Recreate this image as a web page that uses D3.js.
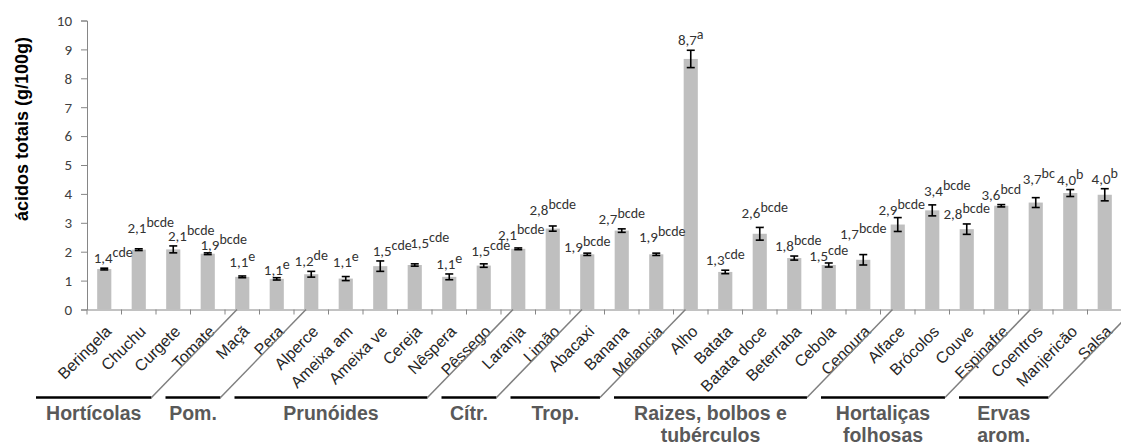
<!DOCTYPE html>
<html>
<head>
<meta charset="utf-8">
<script src="https://cdn.jsdelivr.net/npm/d3@7"></script>
<style>
  html, body { margin: 0; padding: 0; background: #fff; }
  svg { display: block; }
</style>
</head>
<body>
<svg id="chart" width="1121" height="444"></svg>
<script>
const categories = ["Beringela","Chuchu","Curgete","Tomate","Maçã","Pera","Alperce","Ameixa am","Ameixa ve","Cereja","Nêspera","Pêssego","Laranja","Limão","Abacaxi","Banana","Melancia","Alho","Batata","Batata doce","Beterraba","Cebola","Cenoura","Alface","Brócolos","Couve","Espinafre","Coentros","Manjericão","Salsa"];
const values = [1.40,2.07,2.08,1.93,1.13,1.06,1.22,1.07,1.50,1.54,1.13,1.52,2.10,2.80,1.91,2.73,1.91,8.67,1.30,2.62,1.78,1.54,1.72,2.94,3.43,2.78,3.59,3.70,4.03,3.97];
const errors = [0.03,0.03,0.12,0.03,0.03,0.04,0.10,0.07,0.18,0.04,0.10,0.06,0.03,0.09,0.04,0.06,0.04,0.30,0.06,0.22,0.07,0.07,0.18,0.24,0.19,0.18,0.04,0.17,0.12,0.21];
const letters = ["cde","bcde","bcde","bcde","e","e","de","e","cde","cde","e","cde","bcde","bcde","bcde","bcde","bcde","a","cde","bcde","bcde","cde","bcde","bcde","bcde","bcde","bcd","bc","b","b"];
const groupNames = [["Hortícolas"],["Pom."],["Prunóides"],["Cítr."],["Trop."],["Raizes, bolbos e","tubérculos"],["Hortaliças","folhosas"],["Ervas","arom."]];
const groupSizes = [4,2,6,2,3,6,4,3];
const yTicks = [0,1,2,3,4,5,6,7,8,9,10];
const yTitle = "ácidos totais (g/100g)";

(function () {
const svg = d3.select("#chart");
const plotLeft = 87, plotRight = 1122, plotTop = 20.5, plotBottom = 309.5;
const axisColor = "#868686";
const numFont = "Carlito, Calibri, Lato, 'Noto Sans', sans-serif";
const arial = "Arial, 'Liberation Sans', sans-serif";

// manual label drags (as in the source chart), in px relative to default placement
const labelNudge = {
  "Beringela": [9, 0], "Chuchu": [12, -10.5], "Curgete": [18, 0], "Tomate": [16, 2],
  "Maçã": [0, -4], "Pera": [0, 2], "Ameixa am": [0, -5], "Ameixa ve": [12, 0],
  "Cereja": [15, -10.5], "Pêssego": [7, -3], "Laranja": [3, -3], "Limão": [0, -6],
  "Abacaxi": [0, 4], "Melancia": [6, -6.5], "Batata doce": [5, -4.5], "Beterraba": [4, 0],
  "Cebola": [0, 3.5], "Cenoura": [0, -11], "Alface": [4, 2.5], "Brócolos": [15, -4],
  "Coentros": [3, -8.5]
};

const x = d3.scaleBand().domain(categories).range([plotLeft, plotRight]).paddingInner(0.59).paddingOuter(0.295);
const y = d3.scaleLinear().domain([0, 10]).range([plotBottom, plotTop]);
const step = x.step();
const cx = c => x(c) + x.bandwidth() / 2;

const locale = d3.formatLocale({decimal: ",", thousands: ".", grouping: [3], currency: ["", "€"]});
const fmt = locale.format(".1f");

// Y axis
const yAxis = svg.append("g").attr("transform", `translate(${plotLeft},0)`)
  .call(d3.axisLeft(y).tickValues(yTicks).tickSize(6).tickPadding(9).tickFormat(d3.format("d")));
yAxis.select(".domain").attr("stroke", axisColor);
yAxis.selectAll(".tick line").attr("stroke", axisColor);
yAxis.selectAll(".tick text").attr("fill", "#404040").style("font-family", numFont).style("font-size", "15px");

// X axis line + ticks at category boundaries
const xAxis = svg.append("g").attr("transform", `translate(0,${plotBottom})`)
  .call(d3.axisBottom(x).tickSize(0).tickFormat(""));
xAxis.select(".domain").attr("stroke", axisColor);
xAxis.selectAll(".tick").remove();
svg.append("g").selectAll("line")
  .data(d3.range(categories.length + 1))
  .join("line")
  .attr("x1", i => plotLeft + i * step).attr("x2", i => plotLeft + i * step)
  .attr("y1", plotBottom).attr("y2", plotBottom + 5)
  .attr("stroke", axisColor);

// Bars
svg.append("g").selectAll("rect")
  .data(categories)
  .join("rect")
  .attr("x", c => x(c))
  .attr("width", x.bandwidth())
  .attr("y", (c, i) => y(values[i]))
  .attr("height", (c, i) => y(0) - y(values[i]))
  .attr("fill", "#BFBFBF");

// Error bars
const eb = svg.append("g").attr("stroke", "#000").attr("stroke-width", 1.6);
categories.forEach((c, i) => {
  const xc = cx(c), y1 = y(values[i] + errors[i]), y2 = y(values[i] - errors[i]);
  eb.append("line").attr("x1", xc).attr("x2", xc).attr("y1", y1).attr("y2", y2);
  eb.append("line").attr("x1", xc - 4).attr("x2", xc + 4).attr("y1", y1).attr("y2", y1);
  eb.append("line").attr("x1", xc - 4).attr("x2", xc + 4).attr("y1", y2).attr("y2", y2);
});

// Value labels with superscript letters
const lab = svg.append("g").attr("fill", "#333").style("font-family", numFont);
categories.forEach((c, i) => {
  const n = labelNudge[c] || [0, 0];
  const t = lab.append("text")
    .attr("x", cx(c) + n[0])
    .attr("y", y(values[i] + errors[i]) - 5 + n[1])
    .attr("text-anchor", "middle");
  t.append("tspan").style("font-size", "15px").text(fmt(values[i]));
  t.append("tspan").style("font-size", "14px").attr("dy", -6).text(letters[i]);
});

// Category labels rotated
svg.append("g").selectAll("text")
  .data(categories)
  .join("text")
  .attr("transform", c => `translate(${cx(c) + 8},${plotBottom + 23}) rotate(-45)`)
  .attr("text-anchor", "end")
  .attr("fill", "#262626")
  .style("font-family", arial)
  .style("font-size", "16px")
  .text(c => c);

// Y title
svg.append("text")
  .attr("transform", `translate(28,129) rotate(-90)`)
  .attr("text-anchor", "middle")
  .attr("fill", "#000")
  .style("font-family", arial)
  .style("font-size", "18px")
  .style("font-weight", "bold")
  .text(yTitle);

// Group lines, diagonals and names
const lineY = 397.5;
let startIdx = 0, prevEnd = null;
const gG = svg.append("g");
groupSizes.forEach((n, g) => {
  const endIdx = startIdx + n;
  const boundary = plotLeft + endIdx * step;
  const lineEnd = boundary - 73.5;
  const lineStart = g === 0 ? plotLeft - 51 : prevEnd + 14;
  gG.append("line").attr("x1", lineStart).attr("x2", lineEnd)
    .attr("y1", lineY).attr("y2", lineY)
    .attr("stroke", "#000").attr("stroke-width", 2.5);
  gG.append("line").attr("x1", lineEnd).attr("y1", lineY)
    .attr("x2", boundary + 12).attr("y2", plotBottom)
    .attr("stroke", "#7f7f7f").attr("stroke-width", 1.5);
  const mid = (lineStart + lineEnd) / 2;
  const t = gG.append("text").attr("text-anchor", "middle")
    .attr("fill", "#595959").style("font-family", arial)
    .style("font-size", "19.5px").style("font-weight", "bold");
  groupNames[g].forEach((s, k) => {
    t.append("tspan").attr("x", mid).attr("y", 420 + k * 22).text(s);
  });
  prevEnd = lineEnd;
  startIdx = endIdx;
});
})();
</script>
</body>
</html>
